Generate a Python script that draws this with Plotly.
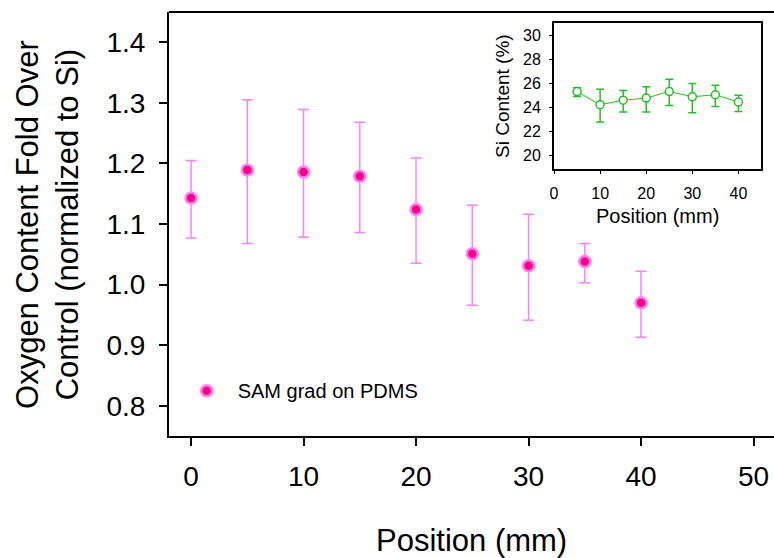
import plotly.graph_objects as go

# Main data: oxygen content fold over control
positions = [0, 5, 10, 15, 20, 25, 30, 35, 40]
oxygen_fold = [1.143, 1.189, 1.186, 1.179, 1.124, 1.051, 1.031, 1.038, 0.970]
oxygen_err_plus = [0.062, 0.116, 0.103, 0.089, 0.085, 0.080, 0.085, 0.030, 0.052]
oxygen_err_minus = [0.066, 0.121, 0.108, 0.093, 0.089, 0.085, 0.090, 0.035, 0.057]

# Inset data: Si content
si_positions = [5, 10, 15, 20, 25, 30, 35, 40]
si_content = [25.36, 24.26, 24.64, 24.81, 25.36, 24.92, 25.09, 24.48]
si_err_plus = [0.31, 1.29, 0.80, 0.94, 1.02, 1.10, 0.79, 0.57]
si_err_minus = [0.41, 1.44, 0.99, 1.16, 1.16, 1.32, 0.97, 0.78]

main_xticks = [0, 10, 20, 30, 40, 50]
main_yticks = [0.8, 0.9, 1.0, 1.1, 1.2, 1.3, 1.4]
inset_xticks = [0, 10, 20, 30, 40]
inset_yticks = [20, 22, 24, 26, 28, 30]

FONT = "Arial, Liberation Sans, sans-serif"
PINK = "#FF0080"
LIGHT = "#FF80FF"
GREEN = "#22C022"

fig = go.Figure()

fig.add_trace(go.Scatter(
    x=positions, y=oxygen_fold, mode="markers", name="SAM grad on PDMS",
    marker=dict(size=11, color=PINK, line=dict(color=LIGHT, width=2.5)),
    error_y=dict(type="data", symmetric=False, array=oxygen_err_plus,
                 arrayminus=oxygen_err_minus, color=LIGHT, thickness=1.5, width=5.5),
    xaxis="x", yaxis="y",
))

fig.add_trace(go.Scatter(
    x=si_positions, y=si_content, mode="lines+markers", showlegend=False,
    line=dict(color=GREEN, width=1),
    marker=dict(size=8, color="white", symbol="circle", line=dict(color=GREEN, width=1.5)),
    error_y=dict(type="data", symmetric=False, array=si_err_plus,
                 arrayminus=si_err_minus, color=GREEN, thickness=1.5, width=4),
    xaxis="x2", yaxis="y2",
))

fig.update_layout(
    width=774, height=558,
    margin=dict(l=169, r=0, t=12, b=122),
    paper_bgcolor="white", plot_bgcolor="white",
    font=dict(family=FONT, color="black"),
    showlegend=True,
    legend=dict(x=0.011, y=0.107, xanchor="left", yanchor="middle", itemwidth=52,
                bgcolor="rgba(0,0,0,0)", font=dict(size=20, family=FONT)),
    xaxis=dict(range=[-1.96, 51.82], tickvals=main_xticks, ticks="outside",
               ticklen=8, tickwidth=1.5, tickcolor="black", showgrid=False,
               zeroline=False, showline=True, linecolor="black", linewidth=2,
               tickfont=dict(size=28), ticklabelstandoff=6),
    yaxis=dict(range=[0.75, 1.45], tickvals=main_yticks, tickformat=".1f",
               ticks="outside", ticklen=8, tickwidth=1.5, tickcolor="black",
               showgrid=False, zeroline=False, showline=True, linecolor="black",
               linewidth=2, tickfont=dict(size=28), ticklabelstandoff=8),
    xaxis2=dict(domain=[0.6364, 0.9793], anchor="y2", range=[0, 45],
                tickvals=inset_xticks, ticks="outside", ticklen=3, tickwidth=1,
                tickcolor="black", showgrid=False, zeroline=False, showline=True,
                mirror=True, linecolor="black", linewidth=2,
                tickfont=dict(size=16), ticklabelstandoff=6),
    yaxis2=dict(domain=[0.6297, 0.9748], anchor="x2", range=[18.9, 31.1],
                tickvals=inset_yticks, ticks="outside", ticklen=3, tickwidth=1,
                tickcolor="black", showgrid=False, zeroline=False, showline=True,
                mirror=True, linecolor="black", linewidth=2,
                tickfont=dict(size=16), ticklabelstandoff=5),
    shapes=[dict(type="line", xref="paper", yref="paper", x0=0, x1=1, y0=1, y1=1,
                 line=dict(color="black", width=2))],
    annotations=[
        dict(text="Oxygen Content Fold Over<br>Control (normalized to Si)",
             xref="paper", yref="paper", x=-0.2017, y=0.5, xanchor="center",
             yanchor="middle", textangle=-90, showarrow=False,
             font=dict(size=31, family=FONT)),
        dict(text="Position (mm)", xref="paper", yref="paper", x=0.5, y=-0.2453,
             xanchor="center", yanchor="middle", showarrow=False,
             font=dict(size=31, family=FONT)),
        dict(text="Si Content (%)", xref="paper", yref="paper", x=0.552, y=0.802,
             xanchor="center", yanchor="middle", textangle=-90, showarrow=False,
             font=dict(size=19, family=FONT)),
        dict(text="Position (mm)", xref="paper", yref="paper", x=0.807, y=0.52,
             xanchor="center", yanchor="middle", showarrow=False,
             font=dict(size=20, family=FONT)),
    ],
)

fig.write_html("out.html")
